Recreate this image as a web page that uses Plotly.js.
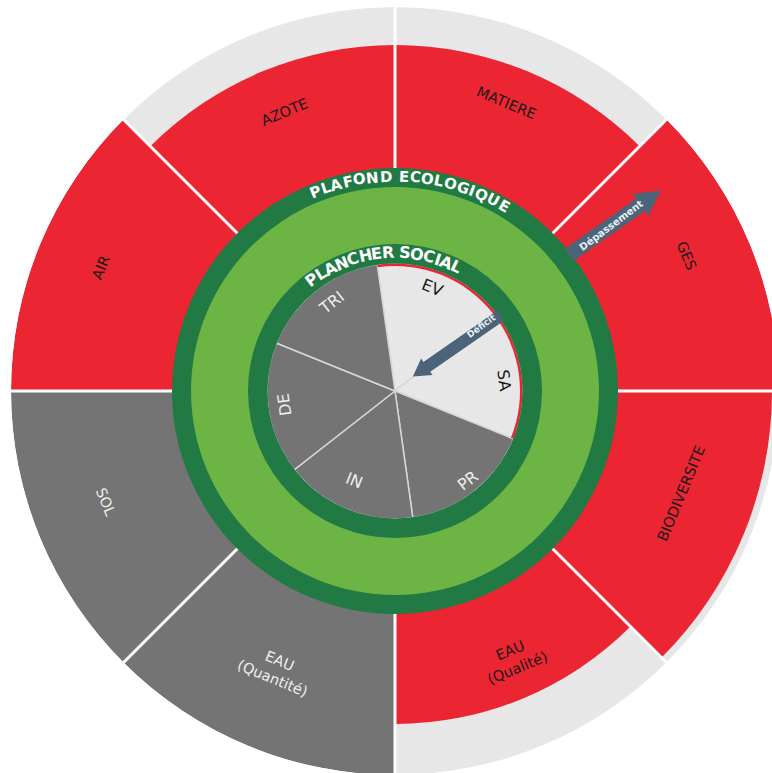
<!DOCTYPE html>
<html>
<head>
<meta charset="utf-8">
<script src="https://cdn.plot.ly/plotly-3.0.1.min.js"></script>
<style>
html,body{margin:0;padding:0;overflow:hidden;background:#ffffff;}
#chart{width:800px;height:775px;}
</style>
</head>
<body>
<div id="chart"></div>
<script>
// ---------- DATA ----------
// Outer ring: ecological ceiling dimensions
const outerLabels = ["MATIERE", "AZOTE", "AIR", "SOL", "EAU<br>(Quantité)", "EAU<br>(Qualité)", "BIODIVERSITE", "GES"];
// reach of each dimension on the radial scale (ceiling = 223, scale max = 384)
const outerReach = [346, 346, 384, 384, 384, 333, 377, 384];
// true = ceiling overshot (red), false = grey
const outerOvershoot = [true, true, true, false, false, true, true, true];

// Inner pie: social foundation dimensions
const innerLabels = ["EV", "SA", "PR", "IN", "DE", "TRI"];
const innerReach = [128, 128, 128, 128, 128, 128];
const innerDeficit = [true, true, false, false, false, false];

// Ring titles and arrow captions
const ceilingTitle = "PLAFOND ECOLOGIQUE";
const floorTitle = "PLANCHER SOCIAL";
const overshootCaption = "Dépassement";
const deficitCaption = "Déficit";

// ---------- GEOMETRY / STYLE ----------
const RMAX = 384;
const CEIL_OUT = 223, CEIL_IN = 204, FLOOR_OUT = 147, FLOOR_IN = 127.5;
const C = {
  red: '#ec2532', gray: '#747474', light: '#e7e7e7',
  green: '#6cb545', dark: '#217943', arrow: '#4c6479', white: '#ffffff'
};
const FONT = 'DejaVu Sans';

function toPaper(r, deg) {
  const a = deg * Math.PI / 180;
  return { x: 0.5 + 0.5 * r / RMAX * Math.cos(a), y: 0.5 + 0.5 * r / RMAX * Math.sin(a) };
}

const outerTheta = outerLabels.map((_, i) => 67.5 + 45 * i);
const innerTheta = innerLabels.map((_, i) => 68 - 60 * i);

// label placement
const outerLabelR = [309, 300, 319, 310, 303, 293, 304, 321];
const outerLabelTheta = [68.8, 111.6, 157.3, 201, 246.8, 293.8, 340.4, 24.8];
const outerLabelAngle = [22.5, -22.5, -67.5, 67.5, 22.5, -22.5, -67.5, 67.5];
const innerLabelR = [110.5, 110, 115, 98, 111, 109];
const innerLabelTheta = [70.2, 5.7, -50.8, -114.5, 187.2, 125.5];
const innerLabelAngle = [22, 82, -38, 22, -98, -38];

// ---------- TRACES ----------
const traces = [
  { type: 'barpolar', theta: outerTheta, r: outerTheta.map(() => RMAX), base: 0, width: 45,
    marker: { color: C.light, line: { width: 0 } }, hoverinfo: 'skip' },
  { type: 'barpolar', theta: outerTheta, r: outerReach, base: 0, width: 45,
    marker: { color: outerOvershoot.map(o => o ? C.red : C.gray), line: { width: 0 } },
    text: outerLabels, hoverinfo: 'text' },
  { type: 'barpolar', theta: [0], r: [CEIL_OUT], base: 0, width: 360,
    marker: { color: C.dark, line: { width: 0 } }, hoverinfo: 'skip' },
  { type: 'barpolar', theta: [0], r: [CEIL_IN], base: 0, width: 360,
    marker: { color: C.green, line: { width: 0 } }, hoverinfo: 'skip' },
  { type: 'barpolar', theta: innerTheta, r: innerReach, base: 0, width: 60,
    marker: { color: innerDeficit.map(d => d ? C.light : C.gray), line: { color: '#d6d6d6', width: 1.5 } },
    text: innerLabels, hoverinfo: 'text' },
  { type: 'barpolar', theta: innerTheta.filter((_, i) => innerDeficit[i]),
    r: innerTheta.filter((_, i) => innerDeficit[i]).map(() => 2.5), base: 125, width: 60,
    marker: { color: C.red, line: { width: 0 } }, hoverinfo: 'skip' },
  { type: 'barpolar', theta: [0], r: [FLOOR_OUT - FLOOR_IN], base: FLOOR_IN, width: 360,
    marker: { color: C.dark, line: { width: 0 } }, hoverinfo: 'skip' }
];

// ---------- ANNOTATIONS ----------
const annotations = [];
outerLabels.forEach((t, i) => {
  const p = toPaper(outerLabelR[i], outerLabelTheta[i]);
  annotations.push({ x: p.x, y: p.y, xref: 'paper', yref: 'paper', text: t, showarrow: false,
    textangle: outerLabelAngle[i], xanchor: 'center', yanchor: 'middle',
    font: { family: FONT, size: 14.5, color: outerOvershoot[i] ? '#1a1a1a' : '#eeeeee' } });
});
innerLabels.forEach((t, i) => {
  const p = toPaper(innerLabelR[i], innerLabelTheta[i]);
  annotations.push({ x: p.x, y: p.y, xref: 'paper', yref: 'paper', text: t, showarrow: false,
    textangle: innerLabelAngle[i], xanchor: 'center', yanchor: 'middle',
    font: { family: FONT, size: 16, color: innerDeficit[i] ? '#1a1a1a' : '#eeeeee' } });
});

function arcText(str, r, startDeg, endDeg, size, color) {
  const ctx = document.createElement('canvas').getContext('2d');
  ctx.font = 'bold ' + size + 'px "' + FONT + '"';
  const chars = [...str];
  const ws = chars.map(ch => ctx.measureText(ch).width);
  const W = ws.reduce((a, b) => a + b, 0);
  let acc = 0;
  const out = [];
  chars.forEach((ch, i) => {
    const c = acc + ws[i] / 2; acc += ws[i];
    const ang = startDeg - (c / W) * (startDeg - endDeg);
    if (ch === ' ') return;
    const p = toPaper(r, ang);
    out.push({ x: p.x, y: p.y, xref: 'paper', yref: 'paper', text: '<b>' + ch + '</b>', showarrow: false,
      textangle: 90 - ang, xanchor: 'center', yanchor: 'middle',
      font: { family: FONT, size: size, color: color } });
  });
  return out;
}
annotations.push(...arcText(ceilingTitle, 214.5, 113.3, 58.1, 15, C.white));
annotations.push(...arcText(floorTitle, 138.5, 129, 61.8, 16, C.white));

function caption(text, r, deg, angle, size) {
  const p = toPaper(r, deg);
  return { x: p.x, y: p.y, xref: 'paper', yref: 'paper', text: '<b>' + text + '</b>', showarrow: false,
    textangle: angle, xanchor: 'center', yanchor: 'middle',
    font: { family: FONT, size: size, color: '#e8eef3' } };
}
annotations.push(caption(overshootCaption, 272, 37.4, -37, 10));
annotations.push(caption(deficitCaption, 108, 36.7, -36, 9));

// ---------- ARROWS & DIVIDERS ----------
function pp(r, a) { const p = toPaper(r, a); return p.x.toFixed(5) + ',' + p.y.toFixed(5); }
function arrowPath(r1, a1, r2, a2, shaftW, headW, headL) {
  const pt = (r, a) => [r * Math.cos(a * Math.PI / 180), r * Math.sin(a * Math.PI / 180)];
  const [x1, y1] = pt(r1, a1), [x2, y2] = pt(r2, a2);
  const L = Math.hypot(x2 - x1, y2 - y1), dx = (x2 - x1) / L, dy = (y2 - y1) / L, nx = -dy, ny = dx;
  const bx = x2 - dx * headL, by = y2 - dy * headL;
  const pts = [
    [x1 + nx * shaftW / 2, y1 + ny * shaftW / 2], [bx + nx * shaftW / 2, by + ny * shaftW / 2],
    [bx + nx * headW / 2, by + ny * headW / 2], [x2, y2], [bx - nx * headW / 2, by - ny * headW / 2],
    [bx - nx * shaftW / 2, by - ny * shaftW / 2], [x1 - nx * shaftW / 2, y1 - ny * shaftW / 2]
  ];
  return 'M' + pts.map(([x, y]) => (0.5 + x / (2 * RMAX)).toFixed(5) + ',' + (0.5 + y / (2 * RMAX)).toFixed(5)).join('L') + 'Z';
}
const shapes = [];
outerTheta.forEach(t => {
  const a = t - 22.5;
  shapes.push({ type: 'path', xref: 'paper', yref: 'paper', layer: 'above',
    path: 'M' + pp(CEIL_OUT, a) + 'L' + pp(RMAX + 2, a), line: { color: C.white, width: 3 } });
});
shapes.push({ type: 'path', xref: 'paper', yref: 'paper', layer: 'above', path: arrowPath(221, 38, 333, 37, 15, 27, 25),
  fillcolor: C.arrow, line: { width: 0 } });
shapes.push({ type: 'path', xref: 'paper', yref: 'paper', layer: 'above', path: arrowPath(130, 35.5, 23, 39, 12, 20, 17),
  fillcolor: C.arrow, line: { width: 0 } });

const layout = {
  width: 800, height: 775,
  margin: { l: 11, r: 21, t: 7, b: 0, pad: 0 },
  paper_bgcolor: '#ffffff',
  showlegend: false,
  polar: {
    domain: { x: [0, 1], y: [0, 1] },
    bgcolor: 'rgba(0,0,0,0)',
    barmode: 'overlay',
    hole: 0,
    radialaxis: { visible: false, range: [0, RMAX] },
    angularaxis: { visible: false, direction: 'counterclockwise', rotation: 0, thetaunit: 'degrees' }
  },
  annotations: annotations,
  shapes: shapes
};

Plotly.newPlot('chart', traces, layout, { displayModeBar: false, responsive: false });
</script>
</body>
</html>
